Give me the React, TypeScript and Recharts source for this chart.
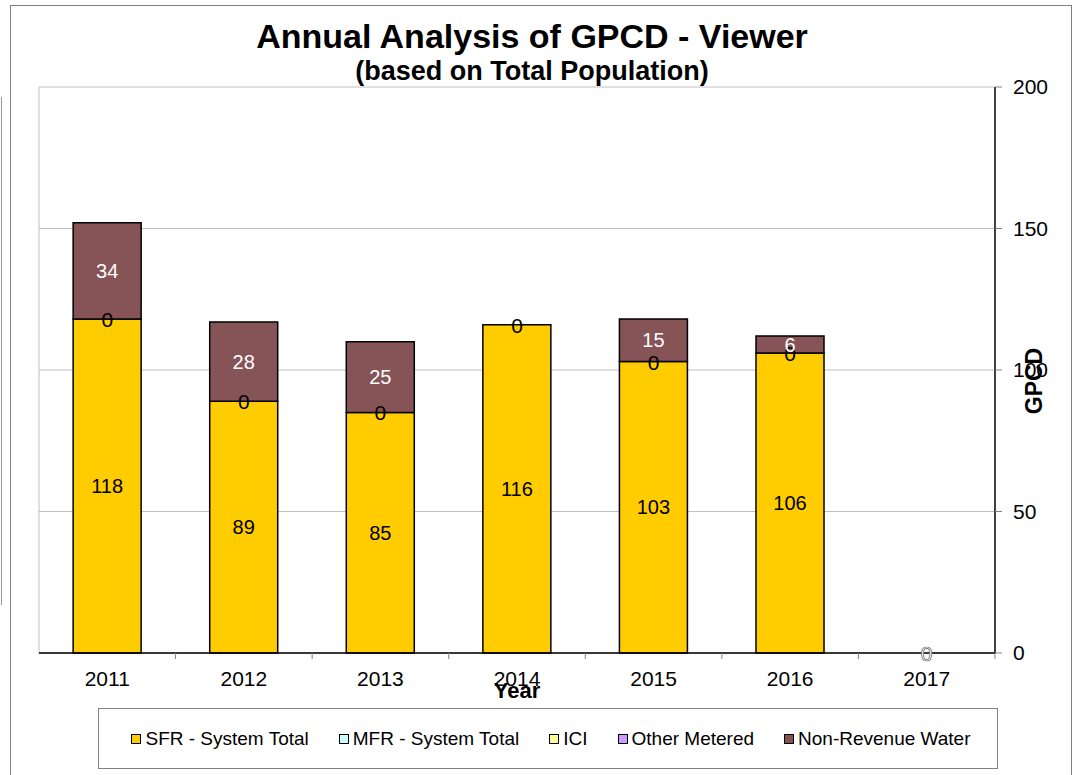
import React from "react";
import {
  ComposedChart, Bar, Line, XAxis, YAxis, CartesianGrid, LabelList,
} from "recharts";

// values
const years = ["2011", "2012", "2013", "2014", "2015", "2016", "2017"];
const sfrTotal = [118, 89, 85, 116, 103, 106, 0];
const mfrTotal = [0, 0, 0, 0, 0, 0, 0];
const iciValues = [0, 0, 0, 0, 0, 0, 0];
const otherMetered = [0, 0, 0, 0, 0, 0, 0];
const nonRevenue = [34, 28, 25, null, 15, 6, 0];
const yTicks = [0, 50, 100, 150, 200];

const series = [
  { key: "sfr", name: "SFR - System Total", color: "#FFCC00", label: "#000" },
  { key: "mfr", name: "MFR - System Total", color: "#CCFFFF", label: "#000" },
  { key: "ici", name: "ICI", color: "#FFFF99", label: "#000" },
  { key: "other", name: "Other Metered", color: "#CC99FF", label: "#000" },
  { key: "nrw", name: "Non-Revenue Water", color: "#865357", label: "#fff" },
];

const data = years.map((year, i) => ({
  year,
  sfr: sfrTotal[i],
  mfr: mfrTotal[i],
  ici: iciValues[i],
  other: otherMetered[i],
  nrw: nonRevenue[i],
  // stack level where the zero-height segments sit, used to place their "0" labels
  zeroLevel: sfrTotal[i] + mfrTotal[i] + iciValues[i] + otherMetered[i],
}));

const FONT = "'Liberation Sans', Arial, sans-serif";

// year label plus a small tick mark on the left edge of each category band
function YearTick(props: any) {
  const { x, y, payload, index, width } = props;
  const half = payload && payload.offset ? payload.offset : width / years.length / 2;
  const axisY = y - 18;
  return (
    <g>
      {index > 0 && (
        <line x1={x - half} x2={x - half} y1={axisY} y2={axisY + 6} stroke="#808080" />
      )}
      {index === years.length - 1 && (
        <line x1={x + half} x2={x + half} y1={axisY} y2={axisY + 6} stroke="#808080" />
      )}
      <text x={x} y={y + 15} textAnchor="middle" fontSize={21} fill="#000" fontFamily={FONT}>
        {payload.value}
      </text>
    </g>
  );
}

// "0" labels of the empty segments (MFR, ICI, Other, and NRW where it is 0)
function ZeroLabel(props: any) {
  const { x, y, index } = props;
  const row = data[index];
  if (!row) return null;
  const zeros = [row.mfr, row.ici, row.other].filter((v) => v === 0);
  return (
    <g>
      {zeros.length > 0 && (
        <text x={x} y={y + 8} textAnchor="middle" fontSize={21} fill="#000" fontFamily={FONT}>0</text>
      )}
      {row.nrw === 0 && (
        <text x={x} y={y + 8} textAnchor="middle" fontSize={21} fill="#fff" stroke="#777" strokeWidth={0.7} fontFamily={FONT}>0</text>
      )}
    </g>
  );
}

export default function App() {
  return (
    <div style={{ position: "absolute", left: 0, top: 0, width: 1076, height: 775, overflow: "hidden", background: "#fff", fontFamily: FONT }}>
      <div style={{ position: "absolute", left: 10, top: 5, width: 1060, height: 800, border: "1px solid #808080" }} />
      <div style={{ position: "absolute", left: 1, top: 97, width: 0, height: 508, borderLeft: "1px solid #999" }} />

      <div style={{ position: "absolute", left: 0, width: 1064, top: 19, textAlign: "center", fontSize: 34, lineHeight: "34px", fontWeight: "bold", color: "#000" }}>
        Annual Analysis of GPCD - Viewer
      </div>
      <div style={{ position: "absolute", left: 0, width: 1064, top: 58, textAlign: "center", fontSize: 27, lineHeight: "27px", fontWeight: "bold", color: "#000" }}>
        (based on Total Population)
      </div>

      <div style={{ position: "absolute", left: 0, top: 0 }}>
        <ComposedChart
          width={1076}
          height={775}
          data={data}
          margin={{ top: 87, right: 21, bottom: 92, left: 39 }}
          barCategoryGap="25%"
        >
          <CartesianGrid
            vertical={true}
            stroke="#c0c0c0"
            verticalCoordinatesGenerator={({ offset }: any) => [offset.left]}
          />
          <XAxis
            dataKey="year"
            axisLine={{ stroke: "#000", strokeWidth: 1.5 }}
            tickLine={false}
            tickSize={6}
            tickMargin={12}
            height={30}
            interval={0}
            tick={<YearTick />}
            label={{ value: "Year", position: "center", dy: 22, style: { fontSize: 22, fontWeight: "bold", fill: "#000", fontFamily: FONT } }}
          />
          <YAxis
            orientation="right"
            width={60}
            domain={[0, 200]}
            ticks={yTicks}
            axisLine={{ stroke: "#000", strokeWidth: 1.5 }}
            tickLine={{ stroke: "#808080" }}
            tickSize={7}
            tickMargin={11}
            tick={{ fontSize: 21, fill: "#000", fontFamily: FONT }}
            label={{ value: "GPCD", angle: -90, position: "center", dx: 9, dy: 11, style: { fontSize: 23, fontWeight: "bold", fill: "#000", fontFamily: FONT } }}
          />
          <Line
            dataKey="zeroLevel"
            stroke="none"
            dot={false}
            activeDot={false}
            legendType="none"
            isAnimationActive={false}
          >
            <LabelList dataKey="zeroLevel" content={<ZeroLabel />} />
          </Line>
          {series.map((s) => (
            <Bar
              key={s.key}
              dataKey={s.key}
              name={s.name}
              stackId="gpcd"
              fill={s.color}
              stroke="#000"
              strokeWidth={1.5}
              isAnimationActive={false}
            >
              <LabelList dataKey={s.key} position="center" fill={s.label} fontSize={20} fontFamily={FONT} />
            </Bar>
          ))}
        </ComposedChart>
      </div>

      <div
        style={{
          position: "absolute", left: 98, top: 708, width: 900, height: 61,
          border: "1px solid #808080", display: "flex", alignItems: "center",
          justifyContent: "center", gap: 30, paddingLeft: 6, boxSizing: "border-box",
        }}
      >
        {series.map((s) => (
          <div key={s.key} style={{ display: "flex", alignItems: "center", fontSize: 19, color: "#000" }}>
            <span style={{ display: "inline-block", width: 8, height: 8, background: s.color, border: "1.5px solid #000", marginRight: 4 }} />
            {s.name}
          </div>
        ))}
      </div>
    </div>
  );
}
